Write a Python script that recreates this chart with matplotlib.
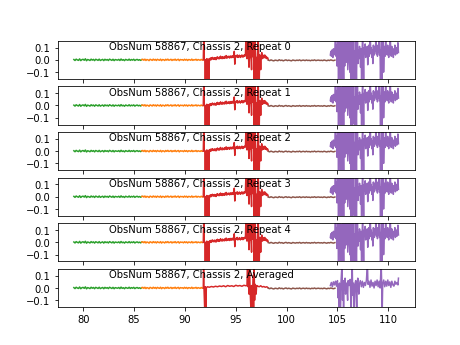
import numpy as np
import matplotlib
matplotlib.use("Agg")
import matplotlib.pyplot as plt

titles = ["ObsNum 58867, Chassis 2, Repeat 0",
          "ObsNum 58867, Chassis 2, Repeat 1",
          "ObsNum 58867, Chassis 2, Repeat 2",
          "ObsNum 58867, Chassis 2, Repeat 3",
          "ObsNum 58867, Chassis 2, Repeat 4",
          "ObsNum 58867, Chassis 2, Averaged"]

green_range = (79.07, 85.75)
green_y = [0.003, -0.005, 0.006, 0.000, -0.004, 0.008, -0.006, 0.002, 0.005, -0.003,
           0.009, -0.007, 0.003, 0.000, -0.005, 0.006, -0.002, 0.004, -0.006, 0.005,
           0.001, -0.004, 0.006, -0.005, 0.000, 0.004, -0.006, 0.005, -0.002, 0.003,
           -0.005, 0.006, 0.001, -0.004, 0.005, -0.006, 0.003, 0.000, -0.002, 0.004,
           -0.005, 0.007, -0.003, 0.002, -0.006, 0.004, 0.000, -0.003, 0.006, -0.004,
           0.003, -0.002, 0.005, -0.005, 0.001, 0.004, -0.003, 0.002, -0.004, 0.002]

orange_range = (85.75, 91.80)
orange_y = [0.002, 0.005, -0.003, 0.006, -0.005, 0.003, 0.000, -0.006, 0.005, 0.001,
            -0.004, 0.006, -0.002, 0.004, -0.005, 0.005, 0.000, -0.003, 0.006, -0.006,
            0.003, 0.001, -0.005, 0.005, -0.002, 0.006, -0.003, 0.000, 0.005, -0.005,
            0.003, -0.002, 0.006, -0.004, 0.001, 0.005, -0.006, 0.003, 0.000, 0.002,
            -0.004, 0.005, -0.002, 0.004, -0.005, 0.003, 0.001, -0.003, 0.006, -0.004,
            0.002, -0.001, 0.005, -0.004, 0.003, 0.000, -0.003, 0.004, -0.002, 0.001]

brown_range = (98.20, 104.75)
brown_y = [-0.002, -0.006, 0.000, -0.005, -0.008, -0.002, -0.004, -0.007, 0.001, -0.005,
           -0.002, -0.008, -0.003, 0.000, -0.006, -0.002, -0.005, -0.008, -0.001, -0.004,
           -0.006, -0.002, -0.005, 0.000, -0.007, -0.003, -0.002, -0.006, -0.001, -0.005,
           -0.003, -0.007, -0.002, -0.005, 0.000, -0.006, -0.003, -0.002, -0.005, -0.003,
           -0.006, -0.001, -0.004, -0.007, -0.002, -0.005, 0.000, -0.004, -0.006, -0.002]

red_range = (91.80, 98.20)
red_y = [0.000, 0.200, 0.010, 0.000, -0.200, 0.000, -0.200, 0.010, 0.000, -0.200,
         0.005, -0.200, 0.010, 0.000, 0.015, 0.000, 0.015, 0.005, 0.020, 0.010,
         0.012, 0.004, 0.018, 0.008, 0.015, 0.002, 0.020, 0.010, 0.025, 0.012,
         0.018, 0.008, 0.022, 0.012, 0.030, 0.015, 0.020, 0.010, 0.026, 0.016,
         0.020, 0.012, 0.028, 0.015, 0.022, 0.035, 0.014, 0.024, 0.018, 0.030,
         0.020, 0.026, 0.015, 0.032, 0.022, 0.028, 0.018, 0.034, 0.024, 0.020,
         0.030, 0.070, -0.035, 0.030, 0.022, 0.035, 0.026, 0.040, 0.020, 0.030,
         0.025, 0.038, 0.028, 0.020, 0.034, 0.026, 0.040, 0.030, 0.022, 0.036,
         0.028, 0.040, 0.032, 0.045, 0.200, 0.030, 0.010, 0.040, 0.200, 0.020,
         -0.060, 0.035, 0.200, 0.020, 0.030, -0.080, 0.200, 0.030, 0.025, 0.200,
         -0.200, 0.040, 0.200, 0.030, -0.200, 0.020, -0.200, 0.050, 0.200, 0.030,
         -0.200, 0.040, 0.020, -0.080, 0.030, 0.060, 0.010, 0.040, 0.015, 0.035,
         0.020, 0.040, 0.015, 0.030, 0.025, 0.010, 0.020, 0.015, 0.000]

red_avg_x = [91.80, 91.83, 91.87, 91.95, 92.00, 92.05, 92.10, 92.20, 92.40, 92.60,
             92.80, 93.00, 93.20, 93.40, 93.60, 93.80, 94.00, 94.20, 94.40, 94.60,
             94.80, 95.00, 95.20, 95.40, 95.60, 95.80, 96.00, 96.10, 96.15, 96.20,
             96.25, 96.30, 96.35, 96.40, 96.50, 96.55, 96.60, 96.70, 96.75, 96.80,
             96.85, 96.90, 97.00, 97.05, 97.15, 97.30, 97.45, 97.60, 97.75, 97.90,
             98.05, 98.20]
red_avg_y = [0.000, 0.200, 0.000, -0.200, 0.010, -0.200, 0.000, 0.010, 0.006, 0.012,
             0.008, 0.014, 0.010, 0.016, 0.012, 0.018, 0.010, 0.020, 0.014, 0.018,
             0.012, 0.022, 0.016, 0.020, 0.014, 0.022, 0.018, 0.020, 0.200, 0.010,
             0.200, -0.050, 0.200, 0.000, -0.200, 0.020, -0.200, 0.100, -0.200, 0.200,
             -0.100, 0.030, -0.050, 0.020, 0.015, 0.010, 0.018, 0.008, 0.012, 0.006,
             0.010, 0.000]

purple_range = (104.30, 111.00)
purple_y = [0.04, 0.07, 0.03, 0.08, 0.05, 0.02, 0.09, 0.04, 0.06, 0.10,
            0.20, 0.03, 0.12, -0.05, 0.20, 0.06, -0.20, 0.10, 0.20, 0.00,
            -0.20, 0.15, 0.04, -0.20, 0.20, 0.08, -0.20, 0.20, -0.05, 0.12,
            0.20, -0.02, 0.09, 0.20, -0.08, 0.05, 0.20, 0.03, -0.10, 0.15,
            -0.20, 0.20, 0.02, -0.20, 0.10, 0.20, -0.15, 0.07, -0.20, 0.20,
            0.04, -0.20, 0.12, 0.20, -0.03, 0.08, 0.01, 0.11, 0.05, -0.06,
            0.09, -0.20, 0.06, 0.20, 0.03, -0.20, 0.10, 0.05, 0.13, 0.02,
            0.08, 0.04, 0.11, -0.04, 0.07, 0.12, 0.03, 0.09, 0.20, 0.05,
            0.10, 0.02, 0.08, -0.03, 0.12, 0.06, 0.04, 0.11, 0.07, 0.20,
            0.05, 0.09, 0.03, 0.12, 0.06, 0.20, 0.04, 0.08, -0.20, 0.10,
            0.20, -0.20, 0.07, 0.20, -0.10, 0.05, 0.11, 0.03, 0.20, 0.06,
            0.09, 0.04, 0.12, 0.06, 0.02, 0.10, 0.05, 0.20, 0.07, 0.03,
            0.11, 0.05, 0.08, 0.02, 0.09, 0.06, 0.12, 0.04, 0.07, 0.10,
            0.05, 0.08, 0.14, 0.06]

purple_avg_x = [104.30, 104.40, 104.50, 104.60, 104.70, 104.80, 104.90, 105.00, 105.05, 105.10,
                105.15, 105.20, 105.30, 105.35, 105.45, 105.50, 105.55, 105.60, 105.65, 105.75,
                105.80, 105.90, 106.00, 106.05, 106.15, 106.25, 106.35, 106.40, 106.45, 106.50,
                106.55, 106.65, 106.70, 106.80, 106.90, 106.95, 107.00, 107.10, 107.15, 107.25,
                107.35, 107.45, 107.55, 107.65, 107.75, 107.85, 107.95, 108.00, 108.10, 108.20,
                108.30, 108.40, 108.50, 108.60, 108.70, 108.80, 108.90, 109.00, 109.10, 109.20,
                109.30, 109.35, 109.40, 109.45, 109.55, 109.65, 109.75, 109.85, 109.95, 110.05,
                110.15, 110.25, 110.35, 110.45, 110.55, 110.65, 110.75, 110.85, 110.95, 111.00]
purple_avg_y = [0.020, 0.045, 0.010, 0.050, 0.025, 0.055, 0.015, 0.060, -0.080, 0.030,
                -0.200, 0.040, -0.200, 0.050, 0.200, -0.100, 0.060, -0.200, 0.030, 0.080,
                -0.050, 0.040, -0.100, 0.060, 0.020, 0.070, -0.200, 0.050, 0.200, -0.060,
                0.040, -0.200, 0.030, 0.060, -0.200, 0.040, 0.080, -0.050, 0.030, 0.060,
                0.010, 0.055, 0.005, 0.045, 0.020, 0.065, 0.200, 0.030, 0.055, 0.005,
                0.065, 0.015, 0.045, 0.000, 0.055, 0.020, 0.065, 0.010, 0.055, 0.000,
                0.200, 0.040, -0.200, 0.030, 0.065, 0.010, 0.055, 0.015, 0.065, 0.020,
                0.050, 0.005, 0.055, 0.025, 0.015, 0.055, 0.030, 0.045, 0.025, 0.080]

fig, axes = plt.subplots(6, 1, sharex=True, figsize=(6.4, 4.8), dpi=72)

for i, ax in enumerate(axes):
    avg = (i == 5)
    ax.plot(np.linspace(*green_range, len(green_y)), green_y, color="#2ca02c")
    ax.plot(np.linspace(*orange_range, len(orange_y)), orange_y, color="#ff7f0e")
    if avg:
        ax.plot(red_avg_x, red_avg_y, color="#d62728")
    else:
        ax.plot(np.linspace(*red_range, len(red_y)), red_y, color="#d62728")
    ax.plot(np.linspace(*brown_range, len(brown_y)), brown_y, color="#8c564b")
    if avg:
        ax.plot(purple_avg_x, purple_avg_y, color="#9467bd")
    else:
        ax.plot(np.linspace(*purple_range, len(purple_y)), purple_y, color="#9467bd")
    ax.set_ylim(-0.155, 0.155)
    ax.set_yticks([-0.1, 0.0, 0.1])
    ax.text(82.55, 0.085, titles[i], fontsize=10)

axes[-1].set_xlim(77.47, 112.6)
axes[-1].set_xticks([80, 85, 90, 95, 100, 105, 110])

fig.savefig("out.png", dpi=72)
